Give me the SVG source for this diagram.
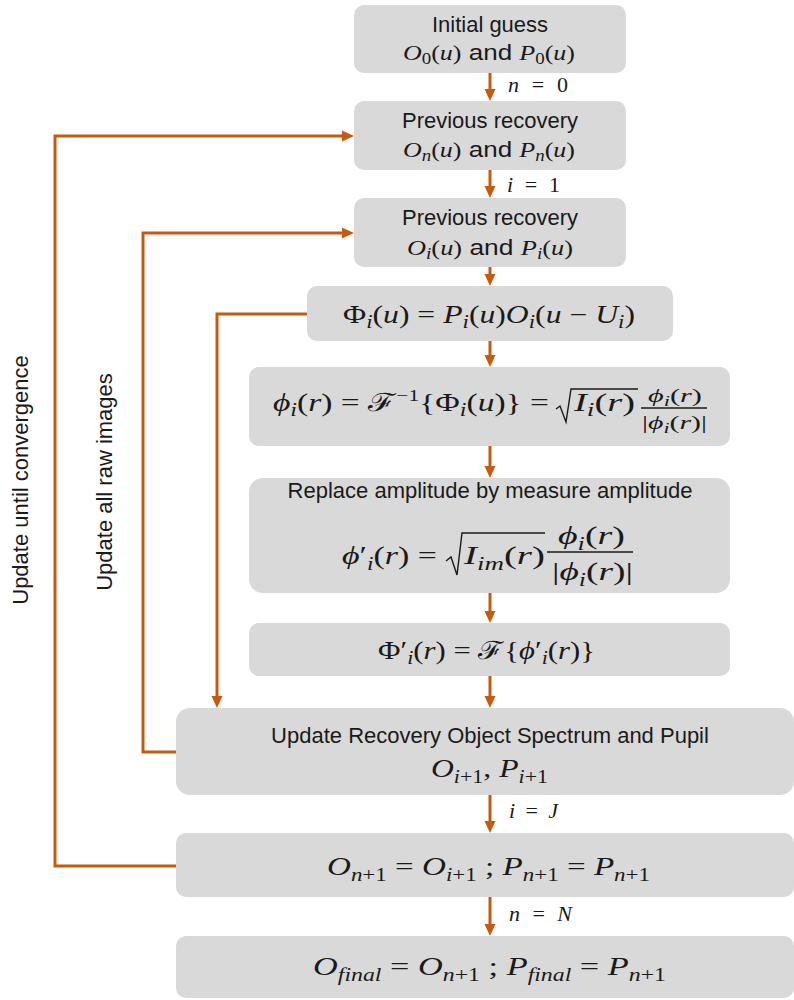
<svg xmlns="http://www.w3.org/2000/svg" width="794" height="1000" viewBox="0 0 794 1000">
<style>
.box{fill:#D9D9D9}
.lbl{font-family:"Liberation Sans",Arial,sans-serif;font-size:22px;fill:#1a1a1a;text-anchor:middle}
.m{font-family:"Liberation Serif","DejaVu Serif",serif;fill:#1a1a1a}
.it{font-style:italic}
.s{font-family:"Liberation Sans",Arial,sans-serif;font-style:normal}
.conn{fill:none;stroke:#C55A11;stroke-width:3}
.rad{fill:none;stroke:#1a1a1a;stroke-width:1.4}
.vt{font-family:"Liberation Sans",Arial,sans-serif;font-size:22px;fill:#1a1a1a;text-anchor:middle}
</style>
<defs>
<marker id="ah" markerUnits="userSpaceOnUse" markerWidth="12" markerHeight="12" viewBox="0 0 12 12" refX="8" refY="6" orient="auto"><path d="M0,0.5 L12,6 L0,11.5 z" fill="#C55A11"/></marker>
</defs>

<g id="connectors">
<path class="conn" marker-end="url(#ah)" d="M490,73 V97"/>
<path class="conn" marker-end="url(#ah)" d="M490,170 V194"/>
<path class="conn" marker-end="url(#ah)" d="M490,267 V282"/>
<path class="conn" marker-end="url(#ah)" d="M490,341 V363"/>
<path class="conn" marker-end="url(#ah)" d="M490,446 V474"/>
<path class="conn" marker-end="url(#ah)" d="M490,593 V619"/>
<path class="conn" marker-end="url(#ah)" d="M490,676 V704"/>
<path class="conn" marker-end="url(#ah)" d="M490,795 V829"/>
<path class="conn" marker-end="url(#ah)" d="M490,897 V932"/>
<path class="conn" marker-end="url(#ah)" d="M176,866 H55 V136 H350"/>
<path class="conn" marker-end="url(#ah)" d="M176,752 H143 V233 H350"/>
<path class="conn" marker-end="url(#ah)" d="M307,314 H217 V704"/>
<text class="m" x="508" y="92" font-size="22" textLength="60"><tspan class="it">n</tspan> = 0</text>
<text class="m" x="507" y="192" font-size="22" textLength="53"><tspan class="it">i</tspan> = 1</text>
<text class="m" x="509" y="818" font-size="22" textLength="49"><tspan class="it">i</tspan> = <tspan class="it">J</tspan></text>
<text class="m" x="509" y="921" font-size="22" textLength="63"><tspan class="it">n</tspan> = <tspan class="it">N</tspan></text>
<text class="vt" transform="translate(28,480) rotate(-90)">Update until convergence</text>
<text class="vt" transform="translate(112,482) rotate(-90)">Update all raw images</text>
</g>

<g id="n1">
<rect class="box" x="354" y="5" width="272" height="68" rx="10"/>
<text class="lbl" x="490" y="32">Initial guess</text>
<text class="m" x="403" y="60" font-size="22" textLength="172" lengthAdjust="spacingAndGlyphs"><tspan class="it">O</tspan><tspan font-size="16" dy="4">0</tspan><tspan dy="-4">(</tspan><tspan class="it">u</tspan>)<tspan class="s"> and </tspan><tspan class="it">P</tspan><tspan font-size="16" dy="4">0</tspan><tspan dy="-4">(</tspan><tspan class="it">u</tspan>)</text>
</g>

<g id="n2">
<rect class="box" x="354" y="101" width="272" height="69" rx="10"/>
<text class="lbl" x="490" y="128">Previous recovery</text>
<text class="m" x="403" y="157" font-size="22" textLength="172" lengthAdjust="spacingAndGlyphs"><tspan class="it">O</tspan><tspan class="it" font-size="16" dy="4">n</tspan><tspan dy="-4">(</tspan><tspan class="it">u</tspan>)<tspan class="s"> and </tspan><tspan class="it">P</tspan><tspan class="it" font-size="16" dy="4">n</tspan><tspan dy="-4">(</tspan><tspan class="it">u</tspan>)</text>
</g>

<g id="n3">
<rect class="box" x="354" y="198" width="272" height="69" rx="10"/>
<text class="lbl" x="490" y="225">Previous recovery</text>
<text class="m" x="407" y="255" font-size="22" textLength="166" lengthAdjust="spacingAndGlyphs"><tspan class="it">O</tspan><tspan class="it" font-size="16" dy="4">i</tspan><tspan dy="-4">(</tspan><tspan class="it">u</tspan>)<tspan class="s"> and </tspan><tspan class="it">P</tspan><tspan class="it" font-size="16" dy="4">i</tspan><tspan dy="-4">(</tspan><tspan class="it">u</tspan>)</text>
</g>

<g id="n4">
<rect class="box" x="307" y="286" width="366" height="55" rx="10"/>
<text class="m" x="343" y="323" font-size="25" textLength="292" lengthAdjust="spacingAndGlyphs">Φ<tspan class="it" font-size="18" dy="5">i</tspan><tspan dy="-5">(</tspan><tspan class="it">u</tspan>) = <tspan class="it">P</tspan><tspan class="it" font-size="18" dy="5">i</tspan><tspan dy="-5">(</tspan><tspan class="it">u</tspan>)<tspan class="it">O</tspan><tspan class="it" font-size="18" dy="5">i</tspan><tspan dy="-5">(</tspan><tspan class="it">u</tspan> − <tspan class="it">U</tspan><tspan class="it" font-size="18" dy="5">i</tspan><tspan dy="-5">)</tspan></text>
</g>

<g id="n5">
<rect class="box" x="249" y="367" width="481" height="79" rx="10"/>
<text class="m" x="273" y="411" font-size="25" textLength="276" lengthAdjust="spacingAndGlyphs"><tspan class="it">ϕ</tspan><tspan class="it" font-size="18" dy="5">i</tspan><tspan dy="-5">(</tspan><tspan class="it">r</tspan>) = ℱ<tspan font-size="16" dy="-10">−1</tspan><tspan dy="10">{Φ</tspan><tspan class="it" font-size="18" dy="5">i</tspan><tspan dy="-5">(</tspan><tspan class="it">u</tspan>)} =</text>
<path class="rad" d="M556,409 L560,406 L566,422 L571,389 L638,389"/>
<text class="m" x="574" y="411" font-size="25" textLength="61" lengthAdjust="spacingAndGlyphs"><tspan class="it">I</tspan><tspan class="it" font-size="18" dy="5">i</tspan><tspan dy="-5">(</tspan><tspan class="it">r</tspan>)</text>
<line class="rad" x1="641" y1="408" x2="707" y2="408"/>
<text class="m" x="648" y="402" font-size="19" textLength="54" lengthAdjust="spacingAndGlyphs"><tspan class="it">ϕ</tspan><tspan class="it" font-size="14" dy="4">i</tspan><tspan dy="-4">(</tspan><tspan class="it">r</tspan>)</text>
<text class="m" x="642" y="429" font-size="19" textLength="65" lengthAdjust="spacingAndGlyphs">|<tspan class="it">ϕ</tspan><tspan class="it" font-size="14" dy="4">i</tspan><tspan dy="-4">(</tspan><tspan class="it">r</tspan>)|</text>
</g>

<g id="n6">
<rect class="box" x="249" y="478" width="481" height="115" rx="14"/>
<text class="lbl" x="490" y="498">Replace amplitude by measure amplitude</text>
<text class="m" x="342" y="564" font-size="26" textLength="95" lengthAdjust="spacingAndGlyphs"><tspan class="it">ϕ</tspan>′<tspan class="it" font-size="18" dy="6">i</tspan><tspan dy="-6">(</tspan><tspan class="it">r</tspan>) =</text>
<path class="rad" d="M446,561 L451,557 L457,575 L462,533 L545,533"/>
<text class="m" x="464" y="564" font-size="26" textLength="81" lengthAdjust="spacingAndGlyphs"><tspan class="it">I</tspan><tspan class="it" font-size="18" dy="6">im</tspan><tspan dy="-6">(</tspan><tspan class="it">r</tspan>)</text>
<line class="rad" x1="547" y1="552" x2="633" y2="552"/>
<text class="m" x="558" y="544" font-size="26" textLength="67" lengthAdjust="spacingAndGlyphs"><tspan class="it">ϕ</tspan><tspan class="it" font-size="18" dy="6">i</tspan><tspan dy="-6">(</tspan><tspan class="it">r</tspan>)</text>
<text class="m" x="552" y="580" font-size="26" textLength="81" lengthAdjust="spacingAndGlyphs">|<tspan class="it">ϕ</tspan><tspan class="it" font-size="18" dy="6">i</tspan><tspan dy="-6">(</tspan><tspan class="it">r</tspan>)|</text>
</g>

<g id="n7">
<rect class="box" x="249" y="623" width="481" height="53" rx="10"/>
<text class="m" x="378" y="659" font-size="25" textLength="217" lengthAdjust="spacingAndGlyphs">Φ′<tspan class="it" font-size="18" dy="5">i</tspan><tspan dy="-5">(</tspan><tspan class="it">r</tspan>) = ℱ{<tspan class="it">ϕ</tspan>′<tspan class="it" font-size="18" dy="5">i</tspan><tspan dy="-5">(</tspan><tspan class="it">r</tspan>)}</text>
</g>

<g id="n8">
<rect class="box" x="176" y="708" width="618" height="87" rx="14"/>
<text class="lbl" x="490" y="743">Update Recovery Object Spectrum and Pupil</text>
<text class="m" x="431" y="777" font-size="26" textLength="117" lengthAdjust="spacingAndGlyphs"><tspan class="it">O</tspan><tspan font-size="18" dy="6"><tspan class="it">i</tspan>+1</tspan><tspan dy="-6">, </tspan><tspan class="it">P</tspan><tspan font-size="18" dy="6"><tspan class="it">i</tspan>+1</tspan></text>
</g>

<g id="n9">
<rect class="box" x="176" y="833" width="618" height="64" rx="10"/>
<text class="m" x="327" y="875" font-size="26" textLength="323" lengthAdjust="spacingAndGlyphs"><tspan class="it">O</tspan><tspan font-size="18" dy="6"><tspan class="it">n</tspan>+1</tspan><tspan dy="-6"> = </tspan><tspan class="it">O</tspan><tspan font-size="18" dy="6"><tspan class="it">i</tspan>+1</tspan><tspan dy="-6"> ; </tspan><tspan class="it">P</tspan><tspan font-size="18" dy="6"><tspan class="it">n</tspan>+1</tspan><tspan dy="-6"> = </tspan><tspan class="it">P</tspan><tspan font-size="18" dy="6"><tspan class="it">n</tspan>+1</tspan></text>
</g>

<g id="n10">
<rect class="box" x="176" y="936" width="618" height="62" rx="10"/>
<text class="m" x="313" y="975" font-size="26" textLength="353" lengthAdjust="spacingAndGlyphs"><tspan class="it">O</tspan><tspan class="it" font-size="18" dy="6">final</tspan><tspan dy="-6"> = </tspan><tspan class="it">O</tspan><tspan font-size="18" dy="6"><tspan class="it">n</tspan>+1</tspan><tspan dy="-6"> ; </tspan><tspan class="it">P</tspan><tspan class="it" font-size="18" dy="6">final</tspan><tspan dy="-6"> = </tspan><tspan class="it">P</tspan><tspan font-size="18" dy="6"><tspan class="it">n</tspan>+1</tspan></text>
</g>
</svg>
